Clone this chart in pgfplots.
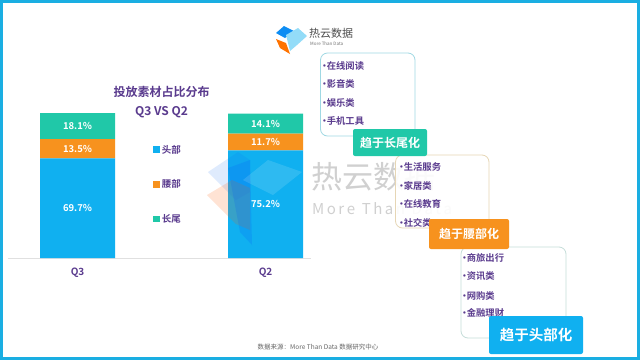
\documentclass[border=0pt]{standalone}
\usepackage{fontspec}
\setmainfont{Noto Sans CJK SC}[BoldFont={Noto Sans CJK SC Bold}]
\usepackage{pgfplots}
\pgfplotsset{compat=1.18}
\definecolor{cblue}{HTML}{10B0F0}
\definecolor{corange}{HTML}{F7921E}
\definecolor{cteal}{HTML}{20C8A8}
\definecolor{cpurple}{HTML}{5A3B8E}
\definecolor{cframe}{HTML}{1AAEE2}
\definecolor{boxA}{HTML}{9FD8E3}
\definecolor{boxB}{HTML}{E6D6B5}
\definecolor{boxC}{HTML}{C5DDD9}
\definecolor{wm}{HTML}{D0D0D0}
\newcommand{\bul}{\makebox[0.5em][c]{•}}
\begin{document}
\begin{tikzpicture}
\begin{scope}[x=1pt,y=-1pt]
\fill[white] (0,0) rectangle (640,360);
% watermark text
\node[anchor=west, text=wm, font=\fontsize{31}{33}\selectfont, inner sep=0pt] at (311,177) {热云数据};
\node[anchor=west, text=wm, font=\fontsize{15}{16}\selectfont, inner sep=0pt] at (312,209) {M\,o\,r\,e\ \ T\,h\,a\,n\ \ D\,a\,t\,a};
% top logo
\fill[cblue!80!blue] (276,33) -- (284,26) -- (294,31) -- (285,38) -- cycle;
\fill[cblue!45] (286,35) -- (298,28) -- (307,36) -- (297,45) -- (290,51) -- cycle;
\fill[orange!90!red] (276,39) -- (286,43) -- (290,54) -- (280,48) -- cycle;
\node[anchor=west, text=black!70, font=\fontsize{11}{12}\selectfont, inner sep=0pt] at (309,33) {热云数据};
\node[anchor=west, text=black!55, font=\fontsize{4.5}{5}\selectfont, inner sep=0pt] at (310,44) {More Than Data};
% title
\node[text=cpurple, font=\bfseries\fontsize{12}{13}\selectfont] at (161.5,91.5) {投放素材占比分布};
\node[text=cpurple, font=\bfseries\fontsize{12}{13}\selectfont] at (161.5,112.5) {Q3 VS Q2};
\end{scope}

\begin{axis}[
  at={(8pt,-258pt)}, anchor=south west,
  x=188pt, y=1.43pt,
  xmin=-0.37, xmax=1.24, ymin=0, ymax=101.3,
  ybar stacked, bar width=75pt,
  axis x line*=bottom, axis y line=none,
  x axis line style={draw=black!12, line width=0.6pt},
  xtick={0,1}, xticklabels={Q3,Q2},
  major tick length=0pt,
  xticklabel style={text=cpurple, font=\bfseries\fontsize{10}{11}\selectfont, yshift=-6pt},
  clip=false,
  legend image code/.code={\fill[#1] (0pt,-3pt) rectangle (6.5pt,3.5pt);},
  legend style={at={(0.48,0.795)}, anchor=north west, draw=none, fill=none,
    font=\bfseries\fontsize{9.5}{10}\selectfont, text=cpurple, row sep=21pt, inner sep=0pt},
  legend cell align=left,
]
\addplot[fill=cblue, draw=none] coordinates {(0,69.7) (1,75.2)};
\addplot[fill=corange, draw=none] coordinates {(0,13.5) (1,11.7)};
\addplot[fill=cteal, draw=none] coordinates {(0,18.1) (1,14.1)};
\legend{头部,腰部,长尾}
\coordinate (a1) at (axis cs:0,34.85);
\coordinate (a2) at (axis cs:0,76.45);
\coordinate (a3) at (axis cs:0,92.25);
\coordinate (b1) at (axis cs:1,37.6);
\coordinate (b2) at (axis cs:1,81.05);
\coordinate (b3) at (axis cs:1,94.0);
\end{axis}

\begin{scope}[x=1pt,y=-1pt]
% watermark logo shapes
\fill[blue!40!cblue, opacity=0.13] (208,172) -- (238,152) -- (250,160) -- (250,192) -- (236,200) -- cycle;
\fill[orange!70!red, opacity=0.17] (207,195) -- (232,180) -- (250,188) -- (250,230) -- (236,224) -- cycle;
\fill[blue!50!cblue, opacity=0.18] (228,168) -- (250,160) -- (252,245) -- (240,232) -- cycle;
\fill[white, opacity=0.13] (243,180) -- (268,160) -- (302,172) -- (273,195) -- cycle;
\end{scope}

\tikzset{vl/.style={text=white, font=\bfseries\fontsize{9.5}{10}\selectfont}}
\node[vl] at (a1) {69.7\%};
\node[vl] at (a2) {13.5\%};
\node[vl] at (a3) {18.1\%};
\node[vl] at (b1) {75.2\%};
\node[vl] at (b2) {11.7\%};
\node[vl] at (b3) {14.1\%};

\begin{scope}[x=1pt,y=-1pt]
% frame
\draw[cframe, line width=3pt] (1.5,1.5) rectangle (638.5,358.5);
% boxes
\draw[boxA, line width=0.8pt, rounded corners=7pt, fill=white] (320.5,53) rectangle (415,136);
\draw[boxB, line width=0.8pt, rounded corners=7pt, fill=white, fill opacity=0.9] (395.5,155) rectangle (489,228);
\draw[boxC, line width=0.8pt, rounded corners=7pt, fill=white] (461,247) rectangle (566,338);
\tikzset{item/.style={anchor=west, text=cpurple, font=\bfseries\fontsize{9.3}{10}\selectfont, inner sep=0pt}}
\node[item] at (322,66) {\bul 在线阅读};
\node[item] at (322,84) {\bul 影音类};
\node[item] at (322,102.5) {\bul 娱乐类};
\node[item] at (322,121) {\bul 手机工具};
\node[item] at (399,167) {\bul 生活服务};
\node[item] at (399,185.5) {\bul 家居类};
\node[item] at (399,204) {\bul 在线教育};
\node[item] at (399,222.5) {\bul 社交类};
\node[item] at (462,258) {\bul 商旅出行};
\node[item] at (462,276.5) {\bul 资讯类};
\node[item] at (462,295.5) {\bul 网购类};
\node[item] at (462,313) {\bul 金融理财};
% labels
\fill[cteal, rounded corners=2pt] (353,129) rectangle (427,156);
\node[text=white, font=\bfseries\fontsize{12}{13}\selectfont] at (390,142.5) {趋于长尾化};
\fill[corange, rounded corners=2pt] (429,219) rectangle (509,249);
\node[text=white, font=\bfseries\fontsize{12}{13}\selectfont] at (469,234) {趋于腰部化};
\fill[cblue, rounded corners=2pt] (489,316) rectangle (583,354);
\node[text=white, font=\bfseries\fontsize{14.5}{15}\selectfont] at (536,335) {趋于头部化};
% footer
\node[text=black!60, font=\fontsize{6.5}{7}\selectfont] at (318,347) {数据来源：More Than Data 数据研究中心};
\end{scope}
\end{tikzpicture}
\end{document}
